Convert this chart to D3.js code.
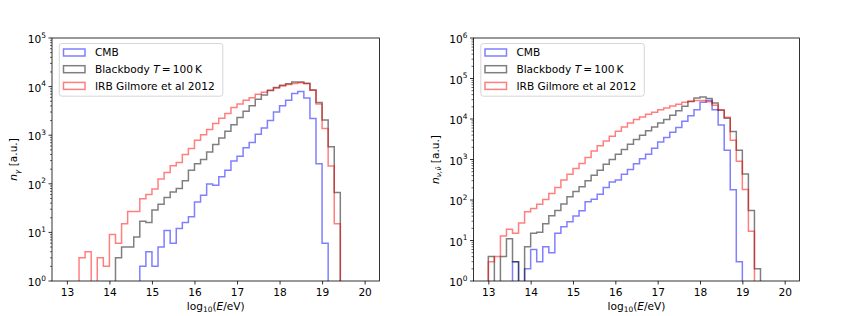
<!DOCTYPE html>
<html>
<head>
<meta charset="utf-8">
<script src="https://cdn.jsdelivr.net/npm/d3@7"></script>
<style>
  body { margin: 0; background: #fff; }
  svg { display: block; font-family: 'DejaVu Sans', sans-serif; }
</style>
</head>
<body>
<svg id="chart"></svg>
<script>
const svgWidth = 842
const svgHeight = 316

// histogram binning: 49 equal bins between 13 and 20 in log10(E/eV)
const edgeMin = 13
const edgeMax = 20
const binCount = 49

const xTicks = [13, 14, 15, 16, 17, 18, 19, 20]
const seriesKeys = ['cmb', 'blackbody', 'irb']
const fontSize = 10.6

// photons (left panel), counts per bin
const cmbGamma = [0, 0, 0, 0, 0, 0, 0, 0, 0, 0, 0, 0, 2, 4, 2, 5, 11, 6, 12, 16,
    21, 42, 58, 99, 93, 140, 190, 295, 370, 550, 710, 1040, 1400, 2000, 3000, 4050, 5250, 7200, 7900, 5850,
    2200, 260, 6, 0, 0, 0, 0, 0, 0]
const blackbodyGamma = [0, 0, 0, 0, 0, 0, 0, 0, 3, 5, 5, 8, 17, 16, 29, 38, 52, 68, 80, 115,
    190, 260, 315, 450, 640, 880, 1200, 1650, 2300, 3100, 4050, 5500, 6750, 8300, 9600, 10700, 11500, 12400, 12400, 11700,
    8500, 4700, 2050, 580, 66, 0, 0, 0, 0]
const irbGamma = [0, 0, 3, 4, 0, 3, 2, 9, 6, 15, 27, 27, 49, 60, 78, 125, 170, 235, 275, 400,
    535, 790, 1020, 1310, 1750, 2240, 2800, 3700, 4370, 5250, 5900, 6950, 7650, 8400, 9400, 10300, 11000, 11600, 12000, 11400,
    8400, 4400, 1380, 233, 15, 0, 0, 0, 0]

// neutrinos (right panel), counts per bin
const cmbNu = [0, 0, 0, 0, 3, 0, 2, 6, 3, 7, 5, 15, 22, 29, 40, 54, 90, 105, 139, 204,
    280, 310, 435, 565, 790, 1040, 1350, 1900, 2700, 3500, 4700, 6200, 8800, 12000, 17000, 26000, 28500, 17000, 7100, 1700,
    178, 3, 0, 0, 0, 0, 0, 0, 0]
const blackbodyNu = [4, 0, 4, 11, 3, 0, 7, 15, 16, 26, 41, 55, 80, 120, 162, 212, 297, 410, 545, 765,
    1000, 1350, 1770, 2390, 3100, 3980, 5100, 6350, 8000, 9700, 12300, 16000, 20600, 27000, 33000, 35000, 32000, 25000, 16500, 10400,
    4900, 1700, 440, 55, 2, 0, 0, 0, 0]
const irbNu = [3, 4, 13, 19, 15, 27, 51, 62, 79, 103, 145, 204, 310, 435, 600, 800, 1120, 1630, 2170, 2870,
    3730, 4980, 6350, 8000, 9700, 11200, 13100, 14700, 17000, 18700, 21000, 23000, 25800, 27500, 28500, 28500, 26500, 22000, 17000, 11000,
    3000, 910, 181, 17, 0, 0, 0, 0, 0]

const colours = {
    cmb: 'rgba(0, 0, 255, 0.5)',
    blackbody: 'rgba(0, 0, 0, 0.5)',
    irb: 'rgba(255, 0, 0, 0.5)'
}

const panels = [
    {
        id: 'gamma',
        left: 52, right: 379.5, top: 38, bottom: 281,
        yMaxExp: 5,
        data: { cmb: cmbGamma, blackbody: blackbodyGamma, irb: irbGamma },
        yLabel: 'gamma'
    },
    {
        id: 'nu',
        left: 473.5, right: 799.5, top: 38, bottom: 281,
        yMaxExp: 6,
        data: { cmb: cmbNu, blackbody: blackbodyNu, irb: irbNu },
        yLabel: 'nu'
    }
]

const binEdges = d3.range(binCount + 1).map(i => edgeMin + i * (edgeMax - edgeMin) / binCount)
const floorValue = 1e-3

const svg = d3.select('#chart')
    .attr('width', svgWidth)
    .attr('height', svgHeight)

svg.append('rect')
    .attr('width', svgWidth)
    .attr('height', svgHeight)
    .attr('fill', '#fff')

// matplotlib style "10^k" label
const powerLabel = (sel, k) => {
    sel.append('tspan').text('10')
    sel.append('tspan')
        .attr('font-size', fontSize * 0.7)
        .attr('dy', -5.5)
        .text(k)
}

const stepPoints = values => {
    const pts = [[binEdges[0], floorValue]]
    values.forEach((v, i) => {
        const y = v > 0 ? v : floorValue
        pts.push([binEdges[i], y])
        pts.push([binEdges[i + 1], y])
    })
    pts.push([binEdges[binCount], floorValue])
    return pts
}

const plotPanel = p => {
    const margin = (edgeMax - edgeMin) * 0.05
    const x = d3.scaleLinear()
        .domain([edgeMin - margin, edgeMax + margin])
        .range([p.left, p.right])
    const y = d3.scaleLog()
        .domain([1, Math.pow(10, p.yMaxExp)])
        .range([p.bottom, p.top])

    const g = svg.append('g')

    g.append('clipPath')
        .attr('id', `clip-${p.id}`)
        .append('rect')
        .attr('x', p.left)
        .attr('y', p.top)
        .attr('width', p.right - p.left)
        .attr('height', p.bottom - p.top)

    const line = d3.line()
        .x(d => x(d[0]))
        .y(d => y(d[1]))

    g.append('g')
        .attr('clip-path', `url(#clip-${p.id})`)
        .selectAll('path')
        .data(seriesKeys)
        .join('path')
        .attr('d', key => line(stepPoints(p.data[key])))
        .attr('fill', 'none')
        .attr('stroke', key => colours[key])
        .attr('stroke-width', 1.5)
        .attr('stroke-linejoin', 'miter')

    // x axis
    const xAxis = g.append('g')
        .attr('transform', `translate(0, ${p.bottom})`)
        .call(d3.axisBottom(x).tickValues(xTicks).tickSize(3.5).tickPadding(3.5).tickFormat(d3.format('d')))
    xAxis.select('.domain').remove()
    xAxis.selectAll('line').attr('stroke', '#000').attr('stroke-width', 0.8)
    xAxis.selectAll('text').attr('font-size', fontSize).attr('fill', '#000').attr('font-family', 'DejaVu Sans')

    // y axis (log): major and minor ticks
    const majors = d3.range(0, p.yMaxExp + 1)
    const minors = []
    for (let e = 0; e < p.yMaxExp; e++) {
        for (let k = 2; k <= 9; k++) minors.push(k * Math.pow(10, e))
    }
    const yAxis = g.append('g')
    yAxis.selectAll('line.minor')
        .data(minors)
        .join('line')
        .attr('class', 'minor')
        .attr('x1', p.left - 2)
        .attr('x2', p.left)
        .attr('y1', d => y(d))
        .attr('y2', d => y(d))
        .attr('stroke', '#000')
        .attr('stroke-width', 0.6)
    yAxis.selectAll('line.major')
        .data(majors)
        .join('line')
        .attr('class', 'major')
        .attr('x1', p.left - 3.5)
        .attr('x2', p.left)
        .attr('y1', d => y(Math.pow(10, d)))
        .attr('y2', d => y(Math.pow(10, d)))
        .attr('stroke', '#000')
        .attr('stroke-width', 0.8)
    yAxis.selectAll('text')
        .data(majors)
        .join('text')
        .attr('x', p.left - 6)
        .attr('y', d => y(Math.pow(10, d)) + 5)
        .attr('text-anchor', 'end')
        .attr('font-size', fontSize)
        .attr('fill', '#000')
        .each(function (d) { powerLabel(d3.select(this), d) })

    // frame
    g.append('rect')
        .attr('x', p.left)
        .attr('y', p.top)
        .attr('width', p.right - p.left)
        .attr('height', p.bottom - p.top)
        .attr('fill', 'none')
        .attr('stroke', '#000')
        .attr('stroke-width', 0.8)

    // x label
    const xl = g.append('text')
        .attr('x', (p.left + p.right) / 2)
        .attr('y', 309.5)
        .attr('text-anchor', 'middle')
        .attr('font-size', fontSize)
        .attr('fill', '#000')
    xl.append('tspan').text('log')
    xl.append('tspan').attr('font-size', fontSize * 0.7).attr('dy', 2.5).text('10')
    xl.append('tspan').attr('dy', -2.5).text('(')
    xl.append('tspan').attr('font-style', 'italic').text('E')
    xl.append('tspan').text('/eV)')

    // y label
    const yl = g.append('text')
        .attr('transform', `translate(${p.left - 35}, ${(p.top + p.bottom) / 2}) rotate(-90)`)
        .attr('text-anchor', 'middle')
        .attr('font-size', fontSize)
        .attr('fill', '#000')
    yl.append('tspan').attr('font-style', 'italic').text('n')
    yl.append('tspan').attr('font-size', fontSize * 0.7).attr('dy', 2.5).attr('font-style', 'italic')
        .text(p.yLabel === 'gamma' ? 'γ' : 'ν,ν\u0304')
    yl.append('tspan').attr('dy', -2.5).text(' [a.u.]')

    // legend
    const lx = p.left + 7.3
    const ly = p.top + 5.5
    const legend = g.append('g')
    legend.append('rect')
        .attr('x', lx)
        .attr('y', ly)
        .attr('width', 163.5)
        .attr('height', 52.7)
        .attr('rx', 2.5)
        .attr('fill', 'rgba(255,255,255,0.8)')
        .attr('stroke', '#cccccc')
        .attr('stroke-width', 0.8)
    const rows = legend.selectAll('g')
        .data(seriesKeys)
        .join('g')
        .attr('transform', (d, i) => `translate(${lx}, ${ly + 9 + i * 16.7})`)
    rows.append('rect')
        .attr('x', 4.2)
        .attr('y', -3.5)
        .attr('width', 21.5)
        .attr('height', 7)
        .attr('fill', 'none')
        .attr('stroke', d => colours[d])
        .attr('stroke-width', 1.5)
    rows.append('text')
        .attr('x', 35.6)
        .attr('y', 3.8)
        .attr('font-size', fontSize)
        .attr('fill', '#000')
        .each(function (d) {
            const t = d3.select(this)
            if (d === 'cmb') t.text('CMB')
            else if (d === 'irb') t.text('IRB Gilmore et al 2012')
            else {
                t.append('tspan').text('Blackbody ')
                t.append('tspan').attr('font-style', 'italic').text('T')
                t.append('tspan').text('\u2009=\u2009100\u2009K')
            }
        })
}

panels.forEach(plotPanel)
</script>
</body>
</html>
